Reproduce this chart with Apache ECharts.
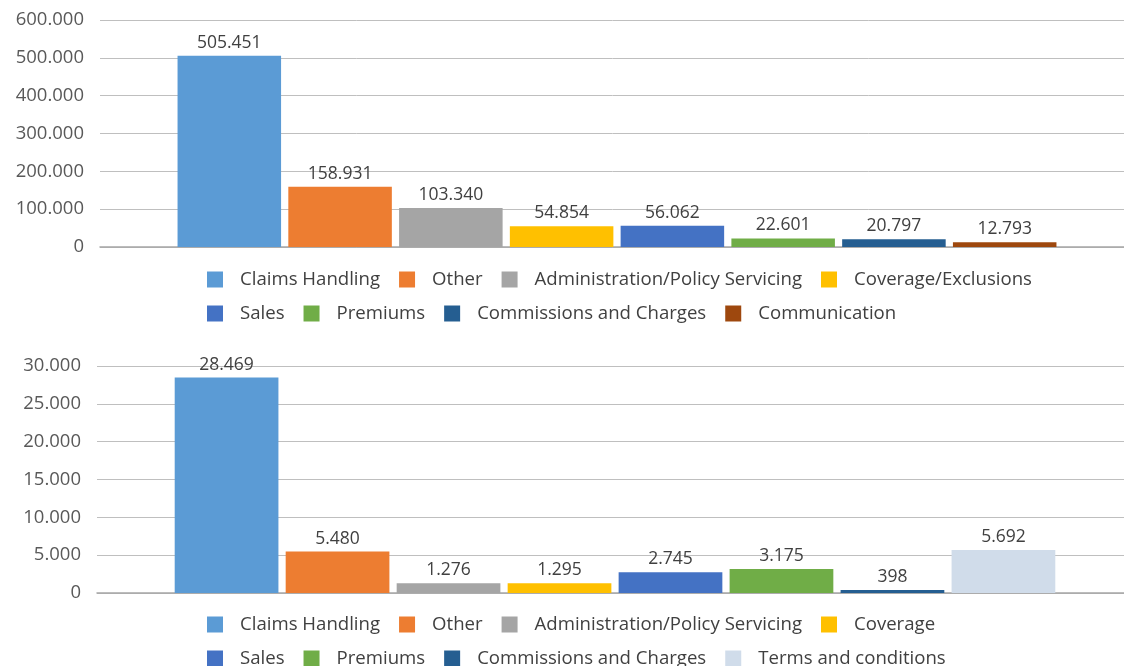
<!DOCTYPE html>
<html>
<head>
    <meta charset="utf-8">
    <title>Complaints</title>
    <script type="text/javascript" src="https://cdn.jsdelivr.net/npm/echarts@6/dist/echarts.min.js"></script>
    <style>
        html, body { margin: 0; padding: 0; background: #fff; overflow: hidden; }
        #chart { width: 1124px; height: 666px; }
    </style>
</head>
<body>
    <div id="chart"></div>
</body>
<script type="text/javascript">
    // top chart
    var topNames = ['Claims Handling', 'Other', 'Administration/Policy Servicing', 'Coverage/Exclusions',
        'Sales', 'Premiums', 'Commissions and Charges', 'Communication'];
    var topValues = [505451, 158931, 103340, 54854, 56062, 22601, 20797, 12793];
    // bottom chart
    var bottomNames = ['Claims Handling', 'Other', 'Administration/Policy Servicing', 'Coverage',
        'Sales', 'Premiums', 'Commissions and Charges', 'Terms and conditions'];
    var bottomValues = [28469, 5480, 1276, 1295, 2745, 3175, 398, 5692];
    var colors = ['#5B9BD5', '#ED7D31', '#A5A5A5', '#FFC000', '#4472C4', '#70AD47', '#255E91', '#9E480E'];
    var bottomColors = ['#5B9BD5', '#ED7D31', '#A5A5A5', '#FFC000', '#4472C4', '#70AD47', '#255E91', '#D0DCEA'];

    var FONT = '"Open Sans", sans-serif';

    function fmt(v) {
        return String(v).replace(/\B(?=(\d{3})+(?!\d))/g, '.');
    }

    function makeLegend(names, top) {
        return {
            top: top,
            left: 202,
            data: names,
            itemWidth: 16,
            itemHeight: 16,
            itemGap: 19,
            icon: 'rect',
            selectedMode: false,
            textStyle: {
                fontFamily: FONT,
                fontSize: 18.6,
                color: '#404040',
                padding: [0, 0, 0, 12]
            }
        };
    }

    function makeSeries(names, values, cols, idx) {
        return names.map(function (n, i) {
            return {
                name: n,
                type: 'bar',
                xAxisIndex: idx,
                yAxisIndex: idx,
                barCategoryGap: '15%',
                barGap: '7%',
                itemStyle: { color: cols[i] },
                label: {
                    show: true,
                    position: 'top',
                    distance: 4,
                    fontFamily: FONT,
                    fontSize: 17.5,
                    color: '#404040',
                    formatter: function (p) { return fmt(p.value); }
                },
                data: [values[i]]
            };
        });
    }

    function yAxis(idx, max, interval) {
        return {
            type: 'value',
            gridIndex: idx,
            min: 0,
            max: max,
            interval: interval,
            axisLine: { show: false },
            axisTick: { show: false },
            axisLabel: {
                margin: 16,
                fontFamily: FONT,
                fontSize: 18.5,
                color: '#595959',
                formatter: function (v) { return fmt(v); }
            },
            splitLine: { lineStyle: { color: '#bfbfbf', width: 1 } }
        };
    }

    function xAxis(idx) {
        return {
            type: 'category',
            gridIndex: idx,
            data: [''],
            axisTick: { show: false },
            axisLabel: { show: false },
            axisLine: { lineStyle: { color: '#a6a6a6', width: 1.5 } }
        };
    }

    var chart = echarts.init(document.getElementById('chart'));
    chart.setOption({
        animation: false,
        grid: [
            { left: 100, width: 1034, top: 20, height: 227, outerBoundsMode: 'none' },
            { left: 97, width: 1036, top: 366, height: 227, outerBoundsMode: 'none' }
        ],
        legend: [
            makeLegend(topNames.slice(0, 4), 265),
            makeLegend(topNames.slice(4), 299),
            makeLegend(bottomNames.slice(0, 4), 610),
            makeLegend(bottomNames.slice(4), 644)
        ],
        xAxis: [xAxis(0), xAxis(1)],
        yAxis: [yAxis(0, 600000, 100000), yAxis(1, 30000, 5000)],
        series: makeSeries(topNames, topValues, colors, 0)
            .concat(makeSeries(bottomNames, bottomValues, bottomColors, 1))
    });
</script>
</html>
